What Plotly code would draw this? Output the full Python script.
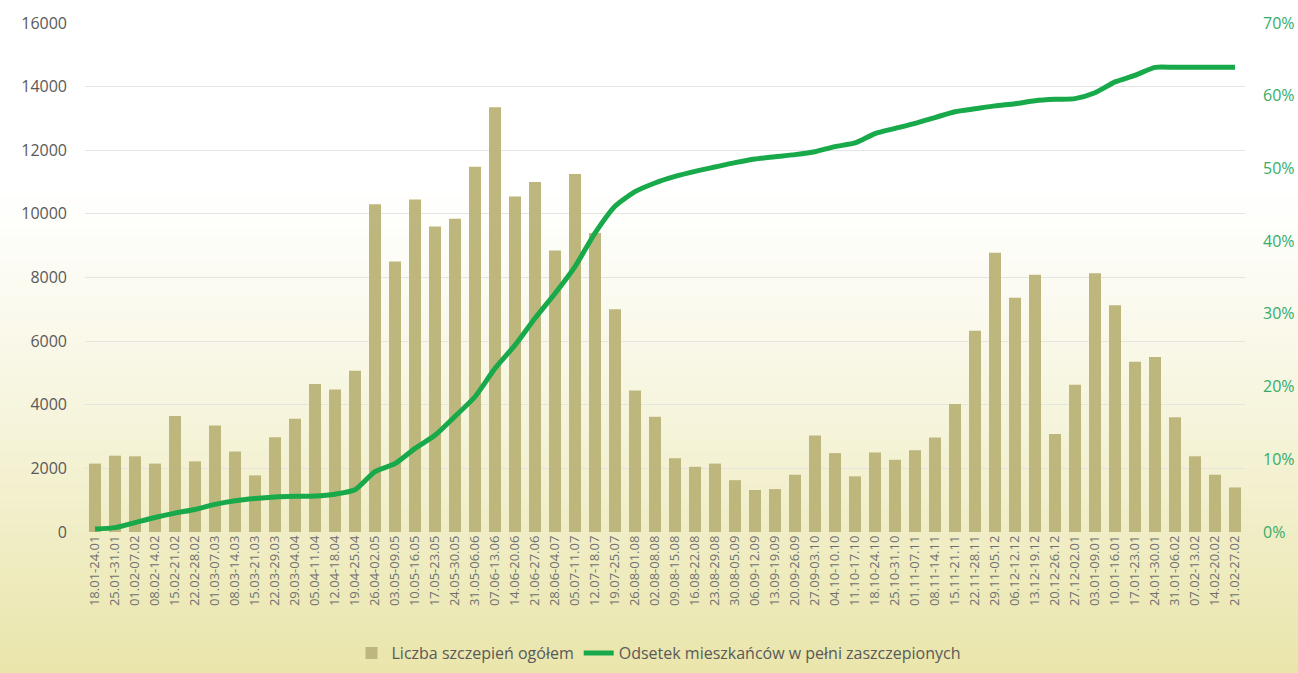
import plotly.graph_objects as go

weeks = ["18.01-24.01", "25.01-31.01", "01.02-07.02", "08.02-14.02", "15.02-21.02", "22.02-28.02",
         "01.03-07.03", "08.03-14.03", "15.03-21.03", "22.03-29.03", "29.03-04.04", "05.04-11.04",
         "12.04-18.04", "19.04-25.04", "26.04-02.05", "03.05-09.05", "10.05-16.05", "17.05-23.05",
         "24.05-30.05", "31.05-06.06", "07.06-13.06", "14.06-20.06", "21.06-27.06", "28.06-04.07",
         "05.07-11.07", "12.07-18.07", "19.07-25.07", "26.08-01.08", "02.08-08.08", "09.08-15.08",
         "16.08-22.08", "23.08-29.08", "30.08-05.09", "06.09-12.09", "13.09-19.09", "20.09-26.09",
         "27.09-03.10", "04.10-10.10", "11.10-17.10", "18.10-24.10", "25.10-31.10", "01.11-07.11",
         "08.11-14.11", "15.11-21.11", "22.11-28.11", "29.11-05.12", "06.12-12.12", "13.12-19.12",
         "20.12-26.12", "27.12-02.01", "03.01-09.01", "10.01-16.01", "17.01-23.01", "24.01-30.01",
         "31.01-06.02", "07.02-13.02", "14.02-20.02", "21.02-27.02"]

vaccinations = [2150, 2400, 2380, 2150, 3650, 2220, 3350, 2530, 1780, 2980, 3560, 4650,
                4480, 5070, 10300, 8500, 10450, 9600, 9850, 11480, 13350, 10550, 11000, 8850,
                11250, 9400, 7000, 4450, 3620, 2320, 2050, 2150, 1630, 1320, 1350, 1800,
                3030, 2480, 1750, 2500, 2270, 2570, 2970, 4020, 6330, 8780, 7360, 8090,
                3080, 4630, 8130, 7130, 5350, 5500, 3610, 2380, 1800, 1400]

fully_vaccinated_pct = [0.4, 0.6, 1.3, 2.0, 2.6, 3.1, 3.8, 4.3, 4.6, 4.8, 4.9, 4.95,
                        5.2, 5.8, 8.3, 9.4, 11.5, 13.3, 15.9, 18.6, 22.5, 25.7, 29.4, 32.8,
                        36.5, 41.1, 44.8, 46.8, 48.0, 48.9, 49.6, 50.2, 50.8, 51.3, 51.6, 51.9,
                        52.3, 53.0, 53.5, 54.8, 55.5, 56.2, 57.0, 57.8, 58.2, 58.6, 58.9, 59.3,
                        59.5, 59.6, 60.4, 61.9, 62.8, 63.9, 63.9, 63.9, 63.9, 63.9]

bar_name = "Liczba szczepień ogółem"
line_name = "Odsetek mieszkańców w pełni zaszczepionych"

FONT = "Open Sans, Noto Sans, DejaVu Sans, sans-serif"

fig = go.Figure()
fig.add_trace(go.Bar(x=weeks, y=vaccinations, name=bar_name,
                     marker=dict(color="#beb77d", line=dict(width=0)), yaxis="y"))
fig.add_trace(go.Scatter(x=weeks, y=[v / 100 for v in fully_vaccinated_pct], name=line_name,
                         mode="lines", line=dict(color="#17a94a", width=5, shape="spline", smoothing=0.6),
                         yaxis="y2"))

# background gradient (white at top -> pale yellow at bottom), drawn as horizontal bands
W, H = 1298, 673
L, R, T, B = 85, 53, 23, 141
pw, ph = W - L - R, H - T - B
shapes = []
n = 60
top_rgb = (255, 255, 255)
bot_rgb = (233, 229, 170)
start = 180
for i in range(n):
    y0 = start + (H - start) * i / n
    y1 = start + (H - start) * (i + 1) / n
    t = ((y0 + y1) / 2 - start) / (H - start)
    t = t ** 1.2
    c = tuple(int(round(a + (b - a) * t)) for a, b in zip(top_rgb, bot_rgb))
    shapes.append(dict(type="rect", xref="paper", yref="paper", layer="below",
                       x0=(0 - L) / pw, x1=(W - L) / pw,
                       y0=(H - B - y1 - 0.5) / ph, y1=(H - B - y0 + 0.5) / ph,
                       fillcolor="rgb(%d,%d,%d)" % c, line=dict(width=0)))

fig.update_layout(
    width=W, height=H,
    margin=dict(l=L, r=R, t=T, b=B, autoexpand=False),
    paper_bgcolor="white", plot_bgcolor="rgba(0,0,0,0)",
    font=dict(family=FONT, size=13, color="#595959"),
    bargap=0.4,
    shapes=shapes,
    showlegend=True,
    legend=dict(orientation="h", x=659 / W, xref="container", xanchor="center",
                y=(H - 653) / H, yref="container", yanchor="middle",
                font=dict(size=16, color="#595959"), bgcolor="rgba(0,0,0,0)",
                traceorder="normal"),
    xaxis=dict(type="category", tickangle=-90, tickfont=dict(size=13, color="#707070"),
               showgrid=False, showline=False, zeroline=False, ticks="",
               range=[-0.5, len(weeks) - 0.5], automargin=False),
    yaxis=dict(range=[0, 16000], dtick=2000, tickformat="d", showgrid=True,
               gridcolor="#e4e4e0", gridwidth=1, zeroline=False, showline=False,
               tickfont=dict(size=16, color="#595959"), ticks="", ticklabelstandoff=17,
               automargin=False),
    yaxis2=dict(range=[0, 0.7], dtick=0.1, tickformat=".0%", overlaying="y", side="right",
                showgrid=False, zeroline=False, showline=False,
                tickfont=dict(size=16, color="#35ad6a"), ticks="", ticklabelstandoff=17,
                automargin=False),
)

fig.write_html("out.html", config={"displayModeBar": False},
               post_script="document.body.style.margin='0';document.body.style.overflow='hidden';")
